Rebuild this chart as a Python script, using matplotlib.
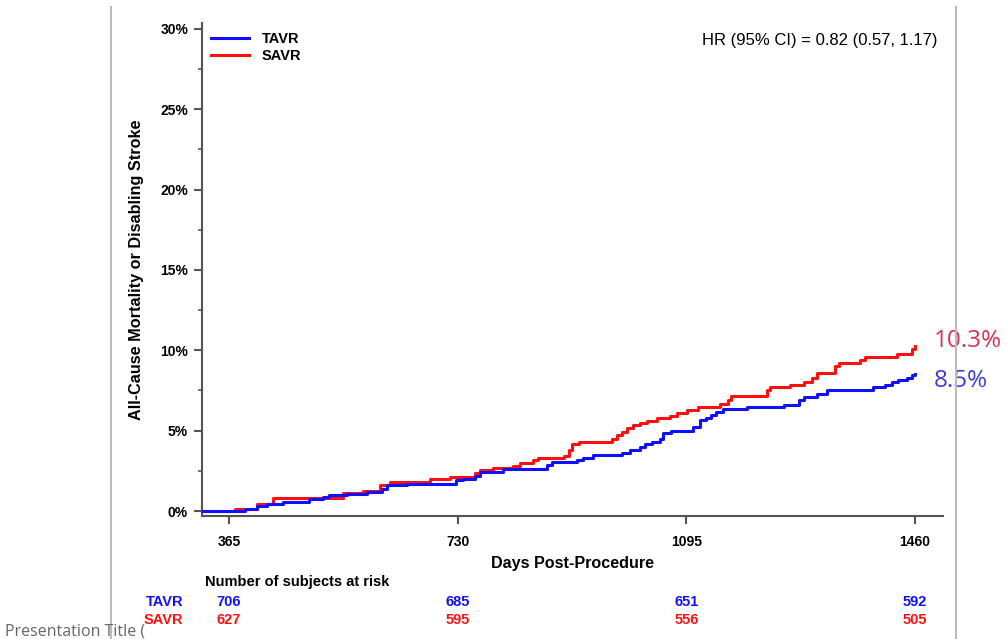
#!/usr/bin/env python3

import numpy as np
import matplotlib
matplotlib.use('Agg')
import matplotlib.pyplot as plt
from matplotlib.lines import Line2D
import matplotlib.transforms as mtrans

plt.rcParams.update({'font.family': ['Liberation Sans', 'DejaVu Sans'], 'font.size': 10})

# Kaplan-Meier step data (days, cumulative %)
tavrDays = [320, 390, 409, 425, 452, 492, 515, 524, 553, 585, 609, 617, 649, 728,
            739, 758, 766, 803, 872, 880, 920, 930, 946, 992, 1005, 1021, 1029,
            1040, 1053, 1058, 1071, 1106, 1117, 1127, 1135, 1143, 1154, 1191,
            1250, 1274, 1282, 1303, 1319, 1393, 1412, 1423, 1433, 1447, 1455, 1460]
tavrPct = [0.0, 0.1, 0.3, 0.45, 0.55, 0.75, 0.9, 1.0, 1.05, 1.2, 1.35, 1.6, 1.7, 1.9,
           2.0, 2.2, 2.4, 2.6, 2.85, 3.05, 3.15, 3.3, 3.5, 3.6, 3.8, 4.0, 4.2,
           4.3, 4.5, 4.85, 5.0, 5.2, 5.65, 5.8, 6.0, 6.15, 6.35, 6.5,
           6.6, 6.9, 7.1, 7.3, 7.5, 7.7, 7.85, 8.0, 8.15, 8.3, 8.45, 8.5]

savrDays = [320, 375, 410, 435, 547, 579, 606, 622, 686, 718, 758, 766, 787, 819,
            829, 851, 859, 899, 907, 912, 923, 976, 984, 992, 1000, 1010, 1021,
            1032, 1048, 1069, 1080, 1096, 1114, 1149, 1162, 1167, 1223, 1229,
            1260, 1282, 1295, 1303, 1332, 1338, 1372, 1380, 1431, 1455, 1460]
savrPct = [0.0, 0.15, 0.45, 0.8, 1.1, 1.25, 1.6, 1.8, 2.0, 2.1, 2.35, 2.55, 2.65, 2.8,
           3.0, 3.2, 3.3, 3.4, 3.8, 4.2, 4.3, 4.5, 4.7, 4.9, 5.15, 5.35, 5.45,
           5.6, 5.8, 5.9, 6.1, 6.3, 6.5, 6.65, 6.9, 7.15, 7.5, 7.7,
           7.85, 8.0, 8.3, 8.6, 9.0, 9.2, 9.4, 9.6, 9.8, 10.1, 10.3]

riskDays = [365, 730, 1095, 1460]
tavrRisk = [706, 685, 651, 592]
savrRisk = [627, 595, 556, 505]

blue = '#1010ff'
red = '#ff1010'
spineColor = '#555555'

fig = plt.figure(figsize=(10.08, 6.39), dpi=100)
ax = fig.add_axes([0.2004, 0.1925, 0.7351, 0.7715])

ax.step(tavrDays, tavrPct, where='post', color=blue, linewidth=2.2, label='TAVR', zorder=3)
ax.step(savrDays, savrPct, where='post', color=red, linewidth=2.2, label='SAVR', zorder=2)

ax.set_xlim(322, 1504.5)
ax.set_ylim(-0.31, 30.37)

ax.set_xticks(riskDays)
ax.set_yticks(np.arange(0, 31, 5))
ax.set_yticks(np.arange(2.5, 30, 5), minor=True)
ax.set_yticklabels(['%d%%' % v for v in range(0, 31, 5)])

for s in ['top', 'right']:
    ax.spines[s].set_visible(False)
for s in ['left', 'bottom']:
    ax.spines[s].set_color(spineColor)
    ax.spines[s].set_linewidth(1.5)

ax.tick_params(axis='both', which='major', length=6, width=1.5, color=spineColor,
               direction='out')
ax.tick_params(axis='y', which='minor', length=3, width=1.2, color=spineColor)
ax.tick_params(axis='x', pad=8)
ax.tick_params(axis='y', pad=4)
for lab in ax.get_xticklabels() + ax.get_yticklabels():
    lab.set_fontweight('bold')
    lab.set_fontsize(10)

ax.set_ylabel('All-Cause Mortality or Disabling Stroke', fontsize=11.7,
              fontweight='bold', labelpad=12)
ax.set_xlabel('Days Post-Procedure', fontsize=11.6, fontweight='bold', labelpad=5)

leg = ax.legend(loc='upper left', frameon=False, fontsize=10.5, handlelength=2.6,
                borderaxespad=0.2, labelspacing=0.2, handletextpad=0.9,
                bbox_to_anchor=(0.0, 1.0))
for t in leg.get_texts():
    t.set_fontweight('bold')

ax.text(0.993, 0.965, 'HR (95% CI) = 0.82 (0.57, 1.17)', transform=ax.transAxes,
        ha='right', va='center', fontsize=12)

# end-of-curve labels
lblTrans = mtrans.blended_transform_factory(fig.transFigure, ax.transData)
ax.text(934 / 1008, savrPct[-1] + 0.28, '%.1f%%' % savrPct[-1], transform=lblTrans,
        ha='left', va='center', fontsize=17.5, color='#d93350', family='Open Sans')
ax.text(934 / 1008, tavrPct[-1] - 0.4, '%.1f%%' % tavrPct[-1], transform=lblTrans,
        ha='left', va='center', fontsize=17.5, color='#3b3bdd', family='Open Sans')

# numbers at risk
trans = mtrans.blended_transform_factory(ax.transData, fig.transFigure)
fig.text(205 / 1008, 1 - 582 / 639, 'Number of subjects at risk', fontsize=10.5,
         fontweight='bold', va='center')
fig.text(183 / 1008, 1 - 602 / 639, 'TAVR', color=blue, fontsize=10.5,
         fontweight='bold', va='center', ha='right')
fig.text(183 / 1008, 1 - 620 / 639, 'SAVR', color=red, fontsize=10.5,
         fontweight='bold', va='center', ha='right')
for d, nt, ns in zip(riskDays, tavrRisk, savrRisk):
    ax.text(d, 1 - 602 / 639, str(nt), transform=trans, color=blue, fontsize=10.5,
            fontweight='bold', ha='center', va='center')
    ax.text(d, 1 - 620 / 639, str(ns), transform=trans, color=red, fontsize=10.5,
            fontweight='bold', ha='center', va='center')

# slide frame lines and footer
fig.add_artist(Line2D([111 / 1008, 111 / 1008], [0, 1 - 7 / 639], color='#bbbbbb', lw=1.5))
fig.add_artist(Line2D([956 / 1008, 956 / 1008], [0, 1 - 7 / 639], color='#bbbbbb', lw=1.5))
fig.text(5 / 1008, 1 - 631 / 639, 'Presentation Title (', fontsize=11.5, color='#666666',
         va='center', family='Open Sans')

plt.savefig('out.png', dpi=100)
plt.close()
